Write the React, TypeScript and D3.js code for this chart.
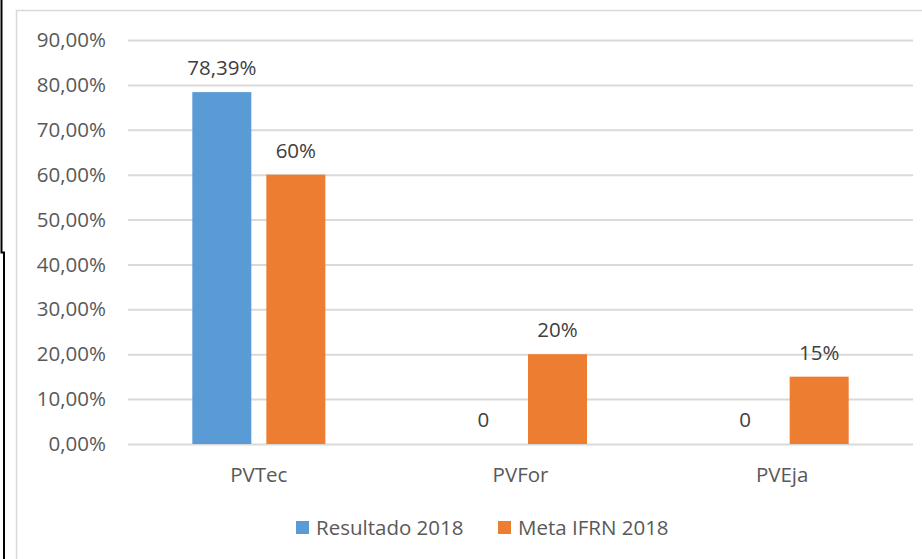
import React, { useRef, useEffect } from "react";
import * as d3 from "d3";

const categories = ["PVTec", "PVFor", "PVEja"];
const seriesNames = ["Resultado 2018", "Meta IFRN 2018"];
const resultado = [78.39, 0, 0];
const meta = [60, 20, 15];
const resultadoLabels = ["78,39%", "0", "0"];
const metaLabels = ["60%", "20%", "15%"];
const yTicks = [0, 10, 20, 30, 40, 50, 60, 70, 80, 90];
const colors = ["#5B9BD5", "#ED7D31"];

const App = () => {
    const plot = useRef<SVGSVGElement>(null);

    const width = 922;
    const height = 559;
    const left = 128;
    const right = 913;
    const top = 40;
    const bottom = 444;
    const font = "'Open Sans', 'Noto Sans', sans-serif";
    const fontSize = 20.5;

    useEffect(() => {
        const svg = d3.select(plot.current);
        svg.selectAll("*").remove();

        // outer frame pieces
        svg.append("path")
            .attr("d", "M1.5,0 V252.5 H4 V559")
            .attr("fill", "none")
            .attr("stroke", "#000")
            .attr("stroke-width", 2);
        svg.append("path")
            .attr("d", "M16.5,559 V10.5 H922")
            .attr("fill", "none")
            .attr("stroke", "#D9D9D9")
            .attr("stroke-width", 1.5);

        const xScale = d3.scaleBand()
            .domain(categories)
            .range([left, right]);
        const xInner = d3.scaleBand()
            .domain(seriesNames)
            .range([0, xScale.bandwidth()])
            .paddingInner(0.203)
            .paddingOuter(0.869);
        const yScale = d3.scaleLinear()
            .domain([0, 90])
            .range([bottom, top]);

        const yAxis = d3.axisLeft(yScale)
            .tickValues(yTicks)
            .tickFormat(d => d3.format(".2f")(+d).replace(".", ",") + "%")
            .tickSize(0)
            .tickPadding(22);

        svg.append("g")
            .attr("transform", `translate(${left}, 0)`)
            .call(yAxis)
            .call(g => g.select(".domain").remove())
            .call(g => g.selectAll(".tick line").clone()
                .attr("x2", right - left)
                .attr("stroke", "#D9D9D9")
                .attr("stroke-width", 2))
            .call(g => g.selectAll(".tick text")
                .attr("fill", "#595959")
                .attr("font-size", fontSize)
                .attr("font-family", font));

        const series = [resultado, meta];
        const labels = [resultadoLabels, metaLabels];

        series.forEach((vals, si) => {
            const g = svg.append("g");
            g.selectAll("rect")
                .data(vals)
                .join("rect")
                .attr("x", (d, i) => xScale(categories[i])! + xInner(seriesNames[si])!)
                .attr("y", d => yScale(d))
                .attr("width", xInner.bandwidth())
                .attr("height", d => bottom - yScale(d))
                .attr("fill", colors[si]);
            g.selectAll("text")
                .data(vals)
                .join("text")
                .attr("x", (d, i) => xScale(categories[i])! + xInner(seriesNames[si])! + xInner.bandwidth() / 2)
                .attr("y", d => yScale(d) - 17)
                .attr("text-anchor", "middle")
                .attr("fill", "#404040")
                .attr("font-size", fontSize)
                .attr("font-family", font)
                .text((d, i) => labels[si][i]);
        });

        const xAxis = d3.axisBottom(xScale).tickSize(0).tickPadding(23);
        svg.append("g")
            .attr("transform", `translate(0, ${bottom})`)
            .call(xAxis)
            .call(g => g.select(".domain").remove())
            .call(g => g.selectAll(".tick text")
                .attr("fill", "#595959")
                .attr("font-size", fontSize)
                .attr("font-family", font));

        // legend
        const legendX = [296, 498];
        const legend = svg.append("g")
            .selectAll("g")
            .data(seriesNames)
            .join("g")
            .attr("transform", (d, i) => `translate(${legendX[i]}, 521)`);
        legend.append("rect")
            .attr("width", 13)
            .attr("height", 13)
            .attr("fill", (d, i) => colors[i]);
        legend.append("text")
            .attr("x", 20)
            .attr("y", 14)
            .attr("fill", "#595959")
            .attr("font-size", fontSize)
            .attr("font-family", font)
            .text(d => d);
    }, []);

    return (
        <svg ref={plot} width={width} height={height}
            style={{ position: "absolute", left: 0, top: 0, background: "#fff" }} />
    );
};

export default App;
